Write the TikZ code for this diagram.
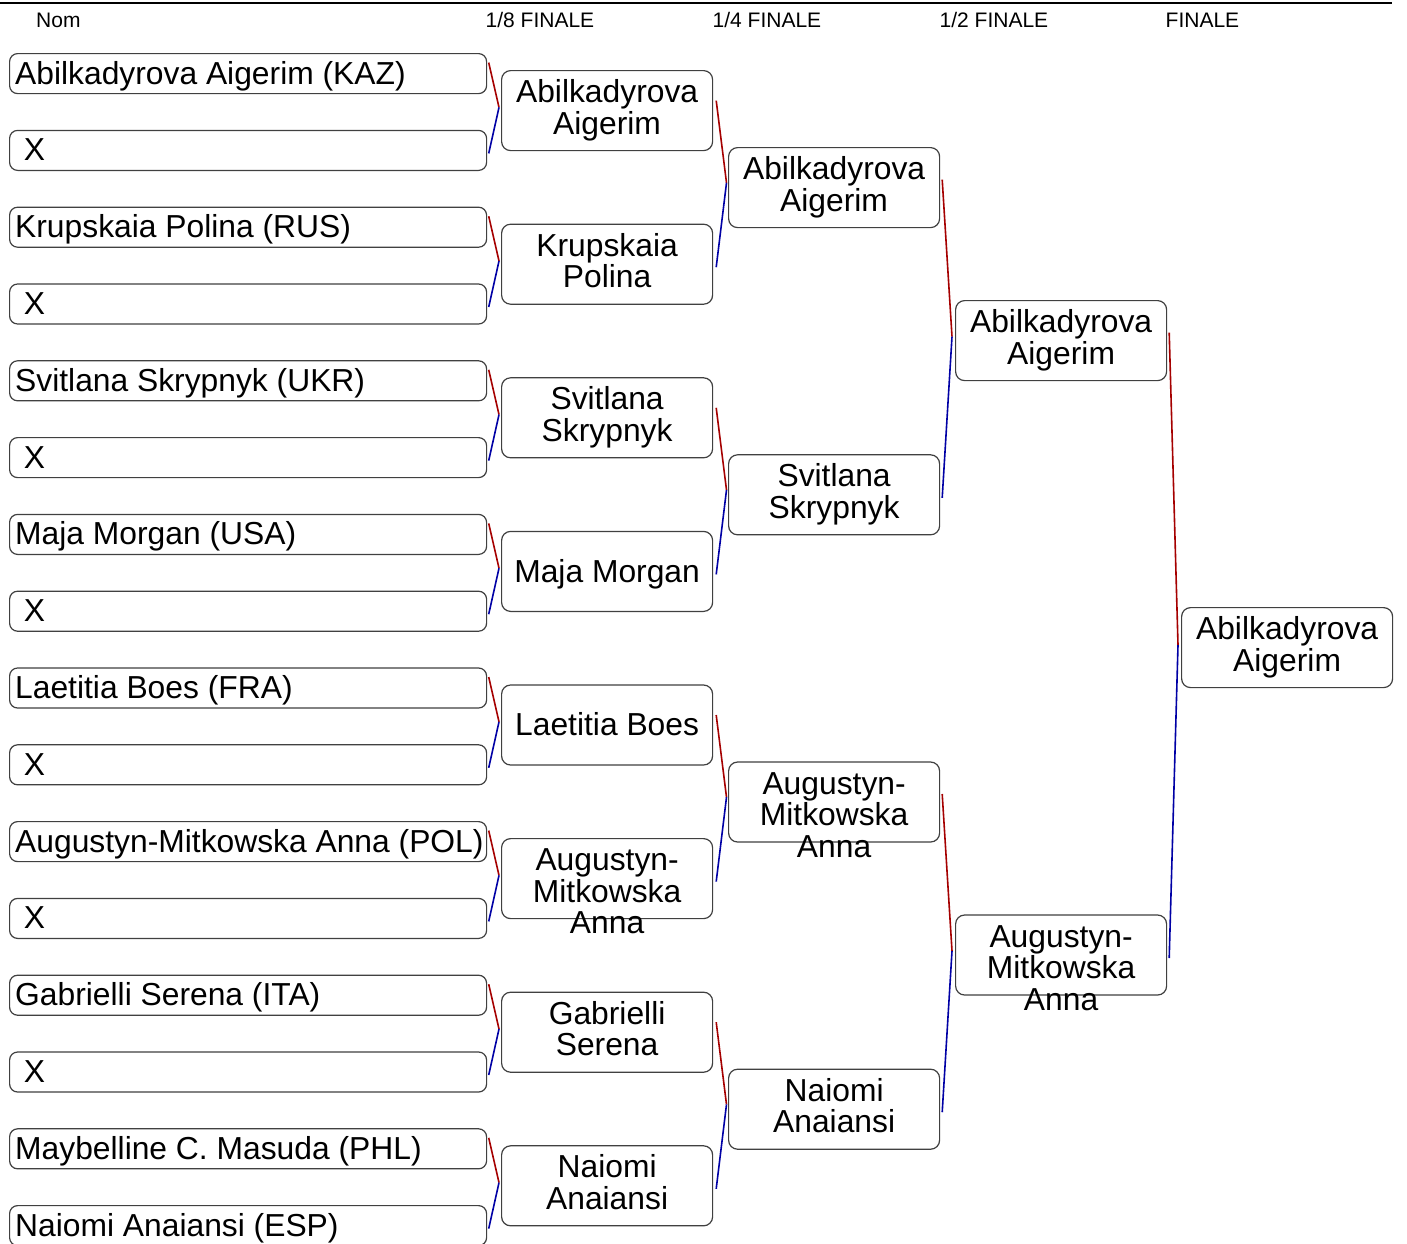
\documentclass[tikz,border=0pt]{standalone}
\usepackage{fontspec}
\setmainfont{Liberation Sans}
\definecolor{winred}{RGB}{165,0,0}
\definecolor{losblue}{RGB}{0,0,165}
\newcommand{\bigf}{\fontsize{31.8}{31.5}\selectfont}
\newcommand{\hdrf}{\fontsize{21}{25}\selectfont}
\newcommand{\fs}{\rule{0pt}{24pt}}
\begin{document}
\begin{tikzpicture}[x=1pt,y=-1pt,
  p1box/.style={draw=black!75, line width=1.2pt, rounded corners=8pt, minimum width=477pt, minimum height=40pt, inner sep=0pt, anchor=north west},
  p1txt/.style={anchor=base west, inner sep=0pt, font=\bigf},
  rbox/.style={draw=black!75, line width=1.2pt, rounded corners=9pt, minimum width=211pt, minimum height=80pt, inner sep=0pt, anchor=north west},
  rtxt/.style={inner sep=0pt, align=center, font=\bigf, anchor=north},
  hdr/.style={anchor=base west, inner sep=0pt, font=\hdrf},
  redl/.style={draw=winred, line width=1.6pt},
  bluel/.style={draw=losblue, line width=1.6pt}]
\path[fill=white] (0,0) rectangle (1407,1243);
\useasboundingbox (0,0) rectangle (1407,1243);
% header
\coordinate (hl0) at (0,3);
\coordinate (hl1) at (1392,3);
\draw[line width=2.2pt] (hl0) -- (hl1);
\node[hdr] (hnom) at (36,27.7) {Nom};
\node[hdr] (h8) at (485.5,27.7) {1/8 FINALE};
\node[hdr] (h4) at (712.5,27.7) {1/4 FINALE};
\node[hdr] (h2) at (939.5,27.7) {1/2 FINALE};
\node[hdr] (hf) at (1165.5,27.7) {FINALE};
% round 1
\foreach \i/\t in {0/{Abilkadyrova Aigerim (KAZ)}, 1/{\hspace*{8.8pt}X},
  2/{Krupskaia Polina (RUS)}, 3/{\hspace*{8.8pt}X},
  4/{Svitlana Skrypnyk (UKR)}, 5/{\hspace*{8.8pt}X},
  6/{Maja Morgan (USA)}, 7/{\hspace*{8.8pt}X},
  8/{Laetitia Boes (FRA)}, 9/{\hspace*{8.8pt}X},
  10/{Augustyn-Mitkowska Anna (POL)}, 11/{\hspace*{8.8pt}X},
  12/{Gabrielli Serena (ITA)}, 13/{\hspace*{8.8pt}X},
  14/{Maybelline C. Masuda (PHL)}, 15/{Naiomi Anaiansi (ESP)}} {
  \node[p1box] (a\i) at (9,{53+76.8*\i}) {};
  \node[p1txt] (at\i) at ([xshift=6pt,yshift=-10.5pt]a\i.west) {\t};
}
% round 2
\node[rbox] (b0) at (501,70) {};
\node[rtxt] (b0t) at ([yshift=-8.5pt]b0.north) {\fs Abilkadyrova\\Aigerim};
\node[rbox] (b1) at (501,223.6) {};
\node[rtxt] (b1t) at ([yshift=-8.5pt]b1.north) {\fs Krupskaia\\Polina};
\node[rbox] (b2) at (501,377.2) {};
\node[rtxt] (b2t) at ([yshift=-8.5pt]b2.north) {\fs Svitlana\\Skrypnyk};
\node[rbox] (b3) at (501,530.8) {};
\node[rtxt] (b3t) at ([yshift=-27pt]b3.north) {\fs Maja Morgan};
\node[rbox] (b4) at (501,684.4) {};
\node[rtxt] (b4t) at ([yshift=-27pt]b4.north) {\fs Laetitia Boes};
\node[rbox] (b5) at (501,838) {};
\node[rtxt] (b5t) at ([yshift=-8.5pt]b5.north) {\fs Augustyn-\\Mitkowska\\Anna};
\node[rbox] (b6) at (501,991.6) {};
\node[rtxt] (b6t) at ([yshift=-8.5pt]b6.north) {\fs Gabrielli\\Serena};
\node[rbox] (b7) at (501,1145.2) {};
\node[rtxt] (b7t) at ([yshift=-8.5pt]b7.north) {\fs Naiomi\\Anaiansi};
% round 3
\node[rbox] (c0) at (728,147) {};
\node[rtxt] (c0t) at ([yshift=-8.5pt]c0.north) {\fs Abilkadyrova\\Aigerim};
\node[rbox] (c1) at (728,454.2) {};
\node[rtxt] (c1t) at ([yshift=-8.5pt]c1.north) {\fs Svitlana\\Skrypnyk};
\node[rbox] (c2) at (728,761.4) {};
\node[rtxt] (c2t) at ([yshift=-8.5pt]c2.north) {\fs Augustyn-\\Mitkowska\\Anna};
\node[rbox] (c3) at (728,1068.6) {};
\node[rtxt] (c3t) at ([yshift=-8.5pt]c3.north) {\fs Naiomi\\Anaiansi};
% round 4
\node[rbox] (d0) at (955,300) {};
\node[rtxt] (d0t) at ([yshift=-8.5pt]d0.north) {\fs Abilkadyrova\\Aigerim};
\node[rbox] (d1) at (955,914.4) {};
\node[rtxt] (d1t) at ([yshift=-8.5pt]d1.north) {\fs Augustyn-\\Mitkowska\\Anna};
% final
\node[rbox] (f0) at (1181,607) {};
\node[rtxt] (f0t) at ([yshift=-8.5pt]f0.north) {\fs Abilkadyrova\\Aigerim};
% connectors round 1 -> 2
\foreach \j in {0,...,7} {
  \pgfmathtruncatemacro\ia{2*\j}
  \pgfmathtruncatemacro\ib{2*\j+1}
  \coordinate (m1-\j) at (499,{107.4+153.6*\j});
  \draw[redl] ([xshift=1.5pt,yshift=11pt]a\ia.east) -- (m1-\j);
  \draw[bluel] (m1-\j) -- ([xshift=1.5pt,yshift=-3pt]a\ib.east);
}
% round 2 -> 3
\foreach \k in {0,...,3} {
  \pgfmathtruncatemacro\ia{2*\k}
  \pgfmathtruncatemacro\ib{2*\k+1}
  \coordinate (m2-\k) at (726.5,{182.8+307.2*\k});
  \draw[redl] ([xshift=3pt,yshift=10pt]b\ia.east) -- (m2-\k);
  \draw[bluel] (m2-\k) -- ([xshift=3pt,yshift=-3pt]b\ib.east);
}
% round 3 -> 4
\foreach \k in {0,1} {
  \pgfmathtruncatemacro\ia{2*\k}
  \pgfmathtruncatemacro\ib{2*\k+1}
  \coordinate (m3-\k) at (952,{336.6+614.4*\k});
  \draw[redl] ([xshift=2pt,yshift=8pt]c\ia.east) -- (m3-\k);
  \draw[bluel] (m3-\k) -- ([xshift=2pt,yshift=-3pt]c\ib.east);
}
% round 4 -> final
\coordinate (m4-0) at (1178,645);
\draw[redl] ([xshift=2pt,yshift=8pt]d0.east) -- (m4-0);
\draw[bluel] (m4-0) -- ([xshift=2pt,yshift=-3pt]d1.east);
\end{tikzpicture}
\end{document}
